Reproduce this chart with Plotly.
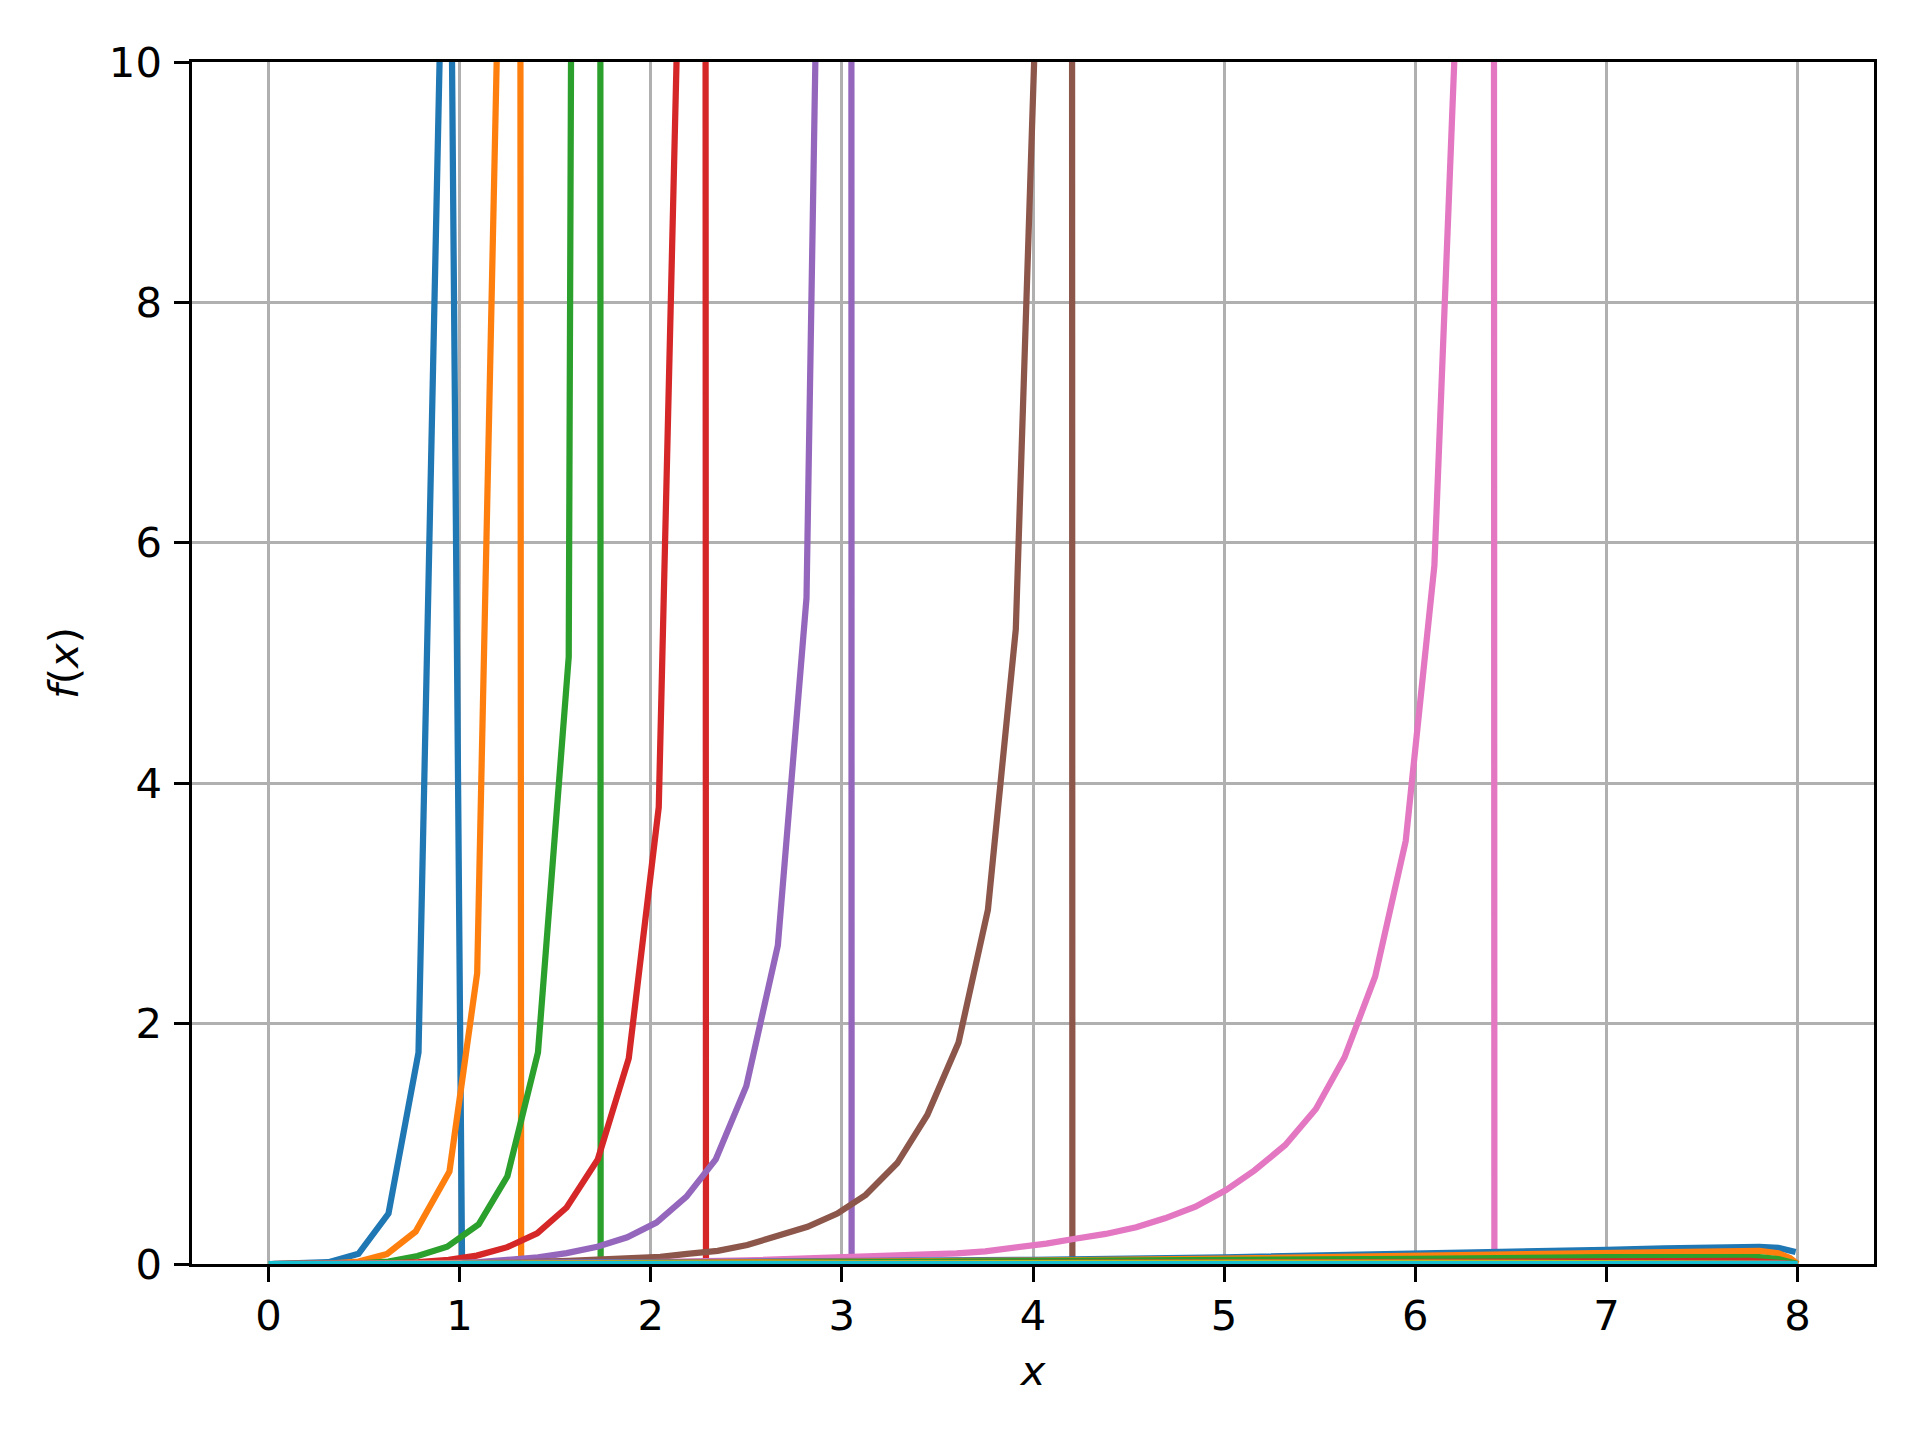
import plotly.graph_objects as go

# ---------------- data ----------------
# series with a pole (rising branch, spike, drop)
s1_x = [0.0, 0.157, 0.314, 0.471, 0.628, 0.785, 0.942, 1.013]
s1_y = [0.0, 0.002, 0.015, 0.085, 0.42, 1.76, 13.5, 0.0]

s2_x = [0.0, 0.157, 0.314, 0.471, 0.62, 0.77, 0.947, 1.092, 1.315, 1.322]
s2_y = [0.0, 0.0, 0.003, 0.02, 0.083, 0.27, 0.77, 2.42, 19.0, 0.0]

s3_x = [0.0, 0.314, 0.471, 0.628, 0.78, 0.935, 1.10, 1.25, 1.41, 1.571, 1.728, 1.738]
s3_y = [0.0, 0.001, 0.005, 0.02, 0.067, 0.144, 0.33, 0.73, 1.76, 5.05, 70.0, 0.0]

s4_x = [0.0, 0.471, 0.628, 0.785, 0.942, 1.09, 1.25, 1.406, 1.56, 1.723, 1.885, 2.042, 2.285, 2.289]
s4_y = [0.0, 0.001, 0.005, 0.015, 0.035, 0.07, 0.14, 0.255, 0.47, 0.87, 1.71, 3.80, 20.0, 0.0]

s5_x = [0.0, 0.471, 0.785, 0.942, 1.10, 1.256, 1.41, 1.56, 1.72, 1.877, 2.03, 2.187, 2.34,
        2.50, 2.665, 2.815, 3.048, 3.051]
s5_y = [0.0, 0.0, 0.003, 0.007, 0.015, 0.03, 0.055, 0.09, 0.144, 0.222, 0.344, 0.56, 0.87,
        1.48, 2.65, 5.54, 28.0, 0.0]

s6_x = [0.0, 1.0, 1.26, 1.57, 1.88, 2.05, 2.19, 2.35, 2.505, 2.66, 2.82, 2.976, 3.124, 3.29,
        3.447, 3.61, 3.764, 3.91, 4.203, 4.206]
s6_y = [0.0, 0.003, 0.012, 0.025, 0.045, 0.06, 0.085, 0.11, 0.158, 0.227, 0.31, 0.42, 0.574, 0.84,
        1.24, 1.84, 2.945, 5.28, 19.7, 0.0]

s7_x = [0.0, 1.0, 1.5, 2.0, 2.5, 2.97, 3.12, 3.28, 3.44, 3.6, 3.75, 3.91, 4.07, 4.22, 4.38,
        4.54, 4.69, 4.85, 5.01, 5.16, 5.32, 5.48, 5.63, 5.79, 5.95, 6.10, 6.41, 6.414]
s7_y = [0.0, 0.002, 0.006, 0.015, 0.03, 0.05, 0.062, 0.072, 0.078, 0.088, 0.105, 0.135, 0.17, 0.21,
        0.25, 0.305, 0.38, 0.477, 0.616, 0.78, 0.99, 1.29, 1.72, 2.39, 3.52, 5.81, 18.3, 0.0]

# low tails after the poles
t1_x = [1.013, 2.0, 3.0, 4.0, 5.0, 5.66, 6.0, 6.41, 7.0, 7.3, 7.6, 7.8, 7.9, 7.96, 7.99]
t1_y = [0.004, 0.012, 0.02, 0.035, 0.055, 0.072, 0.082, 0.092, 0.118, 0.13, 0.142, 0.142, 0.135, 0.12, 0.10]

t2_x = [1.322, 3.0, 4.0, 5.0, 6.0, 6.41, 7.0, 7.6, 7.8, 7.9, 7.96, 8.0]
t2_y = [0.003, 0.015, 0.028, 0.045, 0.068, 0.077, 0.095, 0.113, 0.11, 0.09, 0.05, 0.0]

t3_x = [1.738, 4.0, 5.0, 6.0, 7.0, 7.6, 7.8, 7.9, 8.0]
t3_y = [0.002, 0.02, 0.03, 0.043, 0.057, 0.064, 0.058, 0.04, 0.0]

t4_x = [2.289, 5.0, 6.0, 7.0, 7.5, 7.75, 7.9, 7.97]
t4_y = [0.002, 0.015, 0.022, 0.03, 0.032, 0.025, 0.01, 0.0]

t5_x = [3.051, 6.0, 7.0, 7.6, 7.9, 8.0]
t5_y = [0.001, 0.008, 0.012, 0.012, 0.003, 0.0]

# near-zero series
z1_x = [0.0, 2.0, 4.0, 6.0, 8.0]
z1_y = [0.0, 0.004, 0.008, 0.008, 0.0]
z2_x = [0.0, 2.0, 4.0, 6.0, 8.0]
z2_y = [0.0, 0.006, 0.014, 0.012, 0.0]
z3_x = [0.0, 2.0, 4.0, 6.0, 8.0]
z3_y = [0.0, 0.0, 0.001, 0.001, 0.0]

x_ticks = [0, 1, 2, 3, 4, 5, 6, 7, 8]
y_ticks = [0, 2, 4, 6, 8, 10]

# ---------------- styling ----------------
C = ["#1f77b4", "#ff7f0e", "#2ca02c", "#d62728", "#9467bd",
     "#8c564b", "#e377c2", "#7f7f7f", "#bcbd22", "#17becf"]

traces = [
    (s1_x, s1_y, C[0]), (s2_x, s2_y, C[1]), (s3_x, s3_y, C[2]), (s4_x, s4_y, C[3]),
    (s5_x, s5_y, C[4]), (s6_x, s6_y, C[5]), (s7_x, s7_y, C[6]),
    (t1_x, t1_y, C[0]), (t2_x, t2_y, C[1]), (t3_x, t3_y, C[2]), (t4_x, t4_y, C[3]),
    (t5_x, t5_y, C[4]),
    (z1_x, z1_y, C[7]), (z2_x, z2_y, C[8]), (z3_x, z3_y, C[9]),
]

LW = 6.25
fig = go.Figure()
for xs, ys, col in traces:
    fig.add_trace(go.Scatter(x=xs, y=ys, mode="lines",
                             line=dict(color=col, width=LW),
                             showlegend=False, hoverinfo="skip"))

FONT = "DejaVu Sans"
FS = 41.7
axis_common = dict(
    showgrid=True, gridcolor="#b0b0b0", gridwidth=3.3,
    showline=True, linecolor="black", linewidth=3.3, mirror=True,
    ticks="outside", ticklen=14.6, tickwidth=3.3, tickcolor="black",
    tickfont=dict(family=FONT, size=FS, color="black"),
    zeroline=False,
)

# the page body adds an 8 px offset, so margins are shifted to compensate
fig.update_layout(
    width=1920, height=1440,
    margin=dict(l=184, r=54, t=54, b=184, autoexpand=False),
    paper_bgcolor="white", plot_bgcolor="white",
    font=dict(family=FONT, size=FS, color="black"),
    xaxis=dict(range=[-0.4, 8.4], tickvals=x_ticks, ticklabelstandoff=-2,
               title=dict(text="<i>x</i>", font=dict(family=FONT, size=FS), standoff=18),
               **axis_common),
    yaxis=dict(range=[0, 10], tickvals=y_ticks, ticklabelstandoff=4,
               title=dict(text="<i>f</i>(<i>x</i>)", font=dict(family=FONT, size=FS), standoff=18),
               **axis_common),
)

fig.write_html("out.html")
